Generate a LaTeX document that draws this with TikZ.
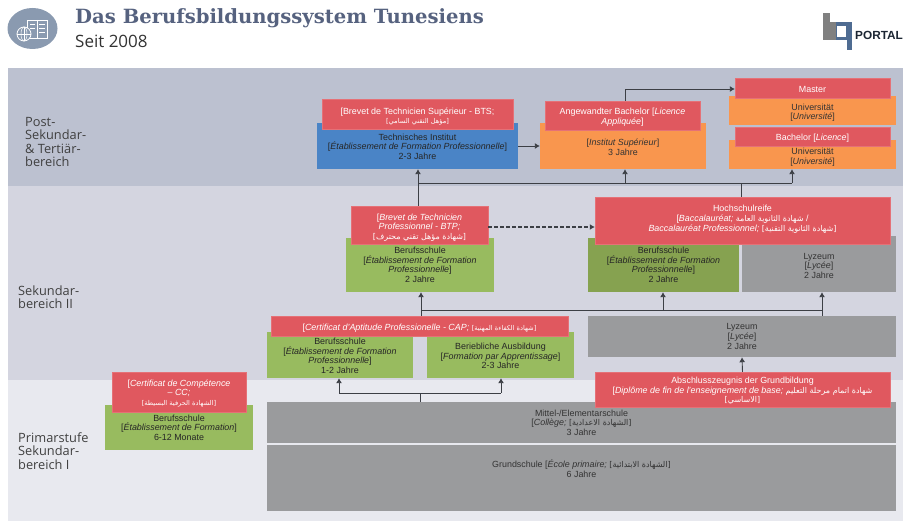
\documentclass[tikz,border=0pt]{standalone}
\usepackage{fontspec}
\setmainfont{Liberation Sans}
\newfontfamily\arabicfont[Script=Arabic,Scale=0.9]{DejaVu Sans}
\newfontfamily\arabicsmall[Script=Arabic,Scale=0.75]{DejaVu Sans}
\newfontfamily\titlefont{DejaVu Serif}
\newfontfamily\labelfont{Open Sans}
\TeXXeTstate=1
\usetikzlibrary{arrows.meta}
\usetikzlibrary{positioning}
\usetikzlibrary{shapes.geometric}
\definecolor{bandtop}{HTML}{BCC1D0}
\definecolor{bandmid}{HTML}{D4D5E0}
\definecolor{bandlow}{HTML}{E8E9EF}
\definecolor{redbox}{HTML}{E0585F}
\definecolor{greenbox}{HTML}{98BB5F}
\definecolor{olivebox}{HTML}{86A250}
\definecolor{orangebox}{HTML}{F9964E}
\definecolor{bluebox}{HTML}{4A84C6}
\definecolor{greybox}{HTML}{9A9B9D}
\definecolor{headblue}{HTML}{56627F}
\definecolor{iconblue}{HTML}{8A9AB0}
\definecolor{logoblue}{HTML}{4F6C92}
\definecolor{linegrey}{HTML}{3C3F45}
\newcommand{\ar}[1]{{\arabicfont\beginR #1\endR}}
\newcommand{\arsm}[1]{{\arabicsmall\beginR #1\endR}}
\tikzset{
  every node/.style={font=\fontsize{8.9}{9.6}\selectfont,align=center,inner sep=0pt},
  band/.style={anchor=north west,minimum width=895,outer sep=0pt},
  redcert/.style={fill=redbox,text=white,draw=redbox!85!white,line width=.4pt},
  orangeschool/.style={fill=orangebox,text=black!80},
  greenschool/.style={fill=greenbox,text=black!85},
  oliveschool/.style={fill=olivebox,text=black!85},
  greyschool/.style={fill=greybox,text=black!80},
  blueschool/.style={fill=bluebox,text=black!85},
  stage/.style={font=\labelfont\fontsize{12.8}{13.3}\selectfont,align=left,anchor=west,text=black!75},
  link/.style={draw=linegrey,line width=.9pt},
  linkar/.style={link,-{Latex[length=5pt,width=6pt]}},
}
\begin{document}
\begin{tikzpicture}[x=1pt,y=-1pt]
    \useasboundingbox (0,0) rectangle (903,521);
    %bands
    \node[band,fill=bandtop,minimum height=118] (post) at (8,68) {};
    \node[band,fill=bandmid,minimum height=194] (sek) at (8,186) {};
    \node[band,fill=bandlow,minimum height=141] (prim) at (8,380) {};
    %header
    \node[ellipse,fill=iconblue,minimum width=50,minimum height=41] (icon) at (32.5,28.5) {};
    \draw[white,fill=iconblue,line width=.8pt] (27,20) rectangle (47,38);
    \draw[white,line width=.8pt] (37,20) -- (37,38);
    \draw[white,line width=.5pt] (30,24) -- (35,24) (30,28) -- (35,28) (39,24) -- (45,24) (39,28) -- (45,28) (39,32) -- (45,32);
    \draw[white,fill=iconblue,line width=.8pt] (24,34) circle (7);
    \draw[white,line width=.5pt] (17,34) -- (31,34) (24,27) -- (24,41);
    \draw[white,line width=.5pt] (24,34) ellipse (3 and 7);
    \node[anchor=west,text=headblue] (title) at (75,18) {\titlefont\bfseries\fontsize{19.6}{22}\selectfont Das Berufsbildungssystem Tunesiens};
    \node[anchor=west,text=black!80] (subtitle) at (75,41) {\labelfont\fontsize{17}{18}\selectfont Seit 2008};
    %logo
    \fill[black!50] (823,13) rectangle (830,40);
    \fill[black!50] (830,22) rectangle (836,40);
    \fill[logoblue] (836,22) rectangle (852,40);
    \fill[white] (837,26) rectangle (846,37);
    \fill[logoblue] (847,22) rectangle (852,50);
    \node[anchor=west,text=black!65!logoblue,font=\bfseries\fontsize{11.8}{14}\selectfont] (portal) at (855,35) {PORTAL};
    %stages
    \node[stage] (poststage) at (25,142) {Post-\\Sekundar-\\\& Tertiär-\\bereich};
    \node[stage] (sekstage) at (18,297) {Sekundar-\\bereich II};
    \node[stage] (primstage) at (18,451) {Primarstufe\\Sekundar-\\bereich I};
    %top row
    \node[blueschool,minimum width=201,minimum height=46] (techinst) at (417.5,146) {\\[-2pt]Technisches Institut\\{}[\textit{Établissement de Formation Professionnelle}]\\2-3 Jahre};
    \node[redcert,minimum width=191,minimum height=30] (bts) at (417.5,114) {\\[1.7pt][Brevet de Technicien Supérieur - BTS;\\\arsm{[مؤهل التقني السامي]}};
    \node[orangeschool,minimum width=166,minimum height=46] (institut) at (623,146) {\\{}[\textit{Institut Supérieur}]\\3 Jahre};
    \node[redcert,minimum width=155,minimum height=29] (licap) at (622.5,115.5) {\\[-.3pt]Angewandter Bachelor [\textit{Licence}\\\textit{Appliquée}]};
    \node[orangeschool,minimum width=167,minimum height=29] (unimaster) at (812.5,110.5) {\\[1pt]Universität\\{}[\textit{Université}]};
    \node[redcert,minimum width=155,minimum height=20] (master) at (812.5,88) {\\[-1.3pt]Master};
    \node[orangeschool,minimum width=167,minimum height=29] (unibachelor) at (812.5,154.5) {\\[2pt]Universität\\{}[\textit{Université}]};
    \node[redcert,minimum width=155,minimum height=19] (bachelor) at (812.5,136.5) {\\[.7pt]Bachelor [\textit{Licence}]};
    %middle row
    \node[greenschool,minimum width=148,minimum height=54] (btpschool) at (420,265) {Berufsschule\\{}[\textit{Établissement de Formation}\\\textit{Professionnelle}]\\2 Jahre};
    \node[redcert,minimum width=137,minimum height=38] (btp) at (419.5,225) {\\[1.7pt][\textit{Brevet de Technicien}\\\textit{Professionnel - BTP;}\\\ar{[شهادة مؤهل تقني محترف]}};
    \node[oliveschool,minimum width=151,minimum height=54] (bacschool) at (663.5,265) {Berufsschule\\{}[\textit{Établissement de Formation}\\\textit{Professionnelle}]\\2 Jahre};
    \node[greyschool,minimum width=154,minimum height=56] (baclycee) at (819,264) {\\[-.3pt]Lyzeum\\{}[\textit{Lycée}]\\2 Jahre};
    \node[redcert,minimum width=295,minimum height=47] (bac) at (742.5,220.5) {Hochschulreife\\{}[\textit{Baccalauréat;} \ar{شهادة الثانوية العامة} /\\\textit{Baccalauréat Professionnel;} \ar{[شهادة الثانوية التقنية]}\\[-5pt]~};
    \node[greenschool,minimum width=146,minimum height=46] (capschool) at (340,355) {\\[-1.3pt]Berufsschule\\{}[\textit{Établissement de Formation}\\\textit{Professionnelle}]\\1-2 Jahre};
    \node[greenschool,minimum width=147,minimum height=46] (apprent) at (500.5,355) {\\[-1.3pt]Beriebliche Ausbildung\\{}[\textit{Formation par Apprentissage}]\\2-3 Jahre};
    \node[redcert,minimum width=297,minimum height=20] (cap) at (419.5,326) {\\[1.7pt][\textit{Certificat d'Aptitude Professionelle - CAP;} \arsm{[شهادة الكفاءة المهنية]}};
    \node[greyschool,minimum width=308,minimum height=41] (lycee) at (742,336.5) {Lyzeum\\{}[\textit{Lycée}]\\2 Jahre};
    %bottom row
    \node[greyschool,minimum width=629,minimum height=41] (college) at (581.5,422.5) {Mittel-/Elementarschule\\{}[\textit{Collège;} \ar{[الشهادة الاعدادية]}\\3 Jahre};
    \node[greyschool,minimum width=629,minimum height=66] (primary) at (581.5,478) {Grundschule [\textit{École primaire;} \ar{[الشهادة الابتدائية]}\\6 Jahre\\~\\~};
    \node[redcert,minimum width=295,minimum height=35] (diplome) at (742.5,389.5) {\\[-.3pt]Abschlusszeugnis der Grundbildung\\{}[\textit{Diplôme de fin de l'enseignement de base;} \ar{شهادة اتمام مرحلة التعليم}\\\ar{[الاساسي]}};
    \node[greenschool,minimum width=148,minimum height=45] (ccschool) at (179,427.5) {Berufsschule\\{}[\textit{Établissement de Formation}]\\6-12 Monate};
    \node[redcert,minimum width=134,minimum height=40] (cc) at (179,392) {\\[-.3pt][\textit{Certificat de Compétence}\\\textit{-- CC;}\\\arsm{[الشهادة الحرفية البسيطة]}};
    %junctions
    \coordinate (upper) at (741,183);
    \coordinate (masterbend) at (625,89);
    \coordinate (middle) at (421,310);
    \coordinate (midright) at (822,310);
    \coordinate (midbac) at (663,310);
    \coordinate (lower) at (420,393);
    \coordinate (lowleft) at (339,393);
    \coordinate (lowright) at (501,393);
    \coordinate (topleft) at (418,183);
    \coordinate (topmid) at (625,183);
    \coordinate (topright) at (792,183);
    \coordinate (dashy) at (0,227);
    %connectors
    \draw[linkar] (techinst.east) -- (institut.west);
    \draw[linkar] (licap.north -| masterbend) -- (masterbend) -- (master.west |- masterbend);
    \draw[linkar] (btp.north -| topleft) -- (techinst.south -| topleft);
    \draw[link] (bac.north -| upper) -- (upper);
    \draw[link] (topleft) -- (topright);
    \draw[linkar] (topmid) -- (institut.south -| topmid);
    \draw[linkar] (topright) -- (unibachelor.south -| topright);
    \draw[linkar,line width=1.1pt,dash pattern=on 4pt off 2pt] (btp.east |- dashy) -- (bac.west |- dashy);
    \draw[linkar] (cap.north -| middle) -- (btpschool.south -| middle);
    \draw[link] (middle) -- (midright);
    \draw[linkar] (midbac) -- (bacschool.south -| midbac);
    \draw[linkar] (lycee.north -| midright) -- (baclycee.south -| midright);
    \draw[linkar] (diplome.north) -- (lycee.south);
    \draw[link] (college.north -| lower) -- (lower);
    \draw[link] (lowleft) -- (lowright);
    \draw[linkar] (lowleft) -- (capschool.south -| lowleft);
    \draw[linkar] (lowright) -- (apprent.south -| lowright);
    \end{tikzpicture}
\end{document}
